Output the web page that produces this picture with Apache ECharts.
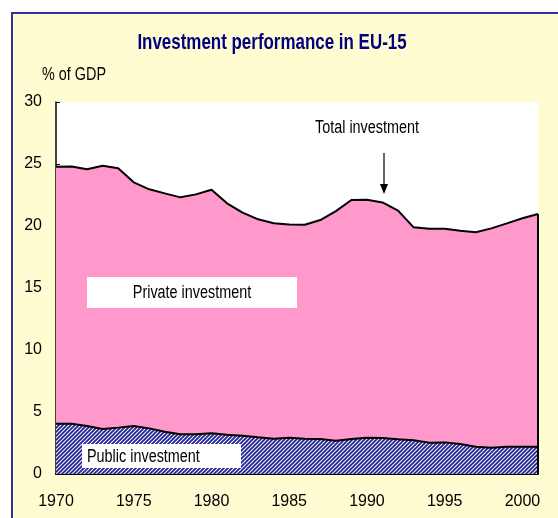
<!DOCTYPE html>
<html>
<head>
<meta charset="utf-8">
<script src="https://cdn.jsdelivr.net/npm/echarts@6/dist/echarts.min.js"></script>
<style>
html,body{margin:0;padding:0;background:#fff;}
#c{width:558px;height:518px;}
</style>
</head>
<body>
<div id="c"></div>
<script>
const years = ['1970','1971','1972','1973','1974','1975','1976','1977','1978','1979','1980','1981','1982','1983','1984','1985','1986','1987','1988','1989','1990','1991','1992','1993','1994','1995','1996','1997','1998','1999','2000','2001'];
const totalInvestment = [24.78,24.8,24.57,24.86,24.65,23.52,22.96,22.63,22.31,22.55,22.93,21.83,21.08,20.54,20.22,20.13,20.1,20.48,21.2,22.1,22.12,21.9,21.24,19.89,19.78,19.78,19.62,19.49,19.81,20.21,20.62,20.97];
const publicInvestment = [4.06,4.06,3.87,3.63,3.74,3.87,3.68,3.41,3.2,3.2,3.28,3.17,3.09,2.96,2.85,2.93,2.85,2.82,2.69,2.82,2.93,2.9,2.8,2.72,2.53,2.55,2.42,2.2,2.12,2.2,2.2,2.2];
const privateInvestment = totalInvestment.map((t,i)=>+(t-publicInvestment[i]).toFixed(2));

const FONT = "'Liberation Sans Narrow','Arial Narrow','Liberation Sans',sans-serif";

// hatch pattern
const pc = document.createElement('canvas');
pc.width = 4; pc.height = 4;
const g = pc.getContext('2d');
g.fillStyle = '#ffffff'; g.fillRect(0,0,4,4);
g.strokeStyle = '#262696'; g.lineWidth = 1.9;
g.beginPath();
g.moveTo(-1,5); g.lineTo(5,-1);
g.moveTo(-1,1); g.lineTo(1,-1);
g.moveTo(3,5); g.lineTo(5,3);
g.stroke();

function label(text, x, y, align, size, sx) {
  return {type:'text', x:x, y:y, z:11, scaleX:sx,
    style:{text:text, font:size+"px "+FONT, fill:'#000', align:align, verticalAlign:'middle'}};
}

const chart = echarts.init(document.getElementById('c'), null, {renderer:'canvas'});
const last = years.length-1;
const title = label('Investment performance in EU-15', 272, 43, 'center', 22, 0.77);
title.style.font = "bold 22px "+FONT; title.style.fill = '#000080';
chart.setOption({
  animation:false,
  backgroundColor:'#ffffff',
  graphic:[
    {type:'rect', z:-10, shape:{x:12,y:13,width:560,height:520}, style:{fill:'#FFFCD2', stroke:'#333399', lineWidth:2}},
    title,
    label('% of GDP', 42, 75, 'left', 18, 0.8),
    {type:'rect', x:87, y:277, z:10, shape:{width:210,height:31}, style:{fill:'#fff'}},
    label('Private investment', 192, 293, 'center', 18, 0.8),
    {type:'rect', x:82, y:444, z:10, shape:{width:159,height:24}, style:{fill:'#fff'}},
    label('Public investment', 87, 457, 'left', 18, 0.8),
    label('Total investment', 367, 128, 'center', 18, 0.8),
    {type:'line', z:11, shape:{x1:384,y1:153,x2:384,y2:190}, style:{stroke:'#000', lineWidth:1.2}},
    {type:'polygon', z:11, shape:{points:[[380,184],[388,184],[384,194]]}, style:{fill:'#000'}}
  ],
  grid:{left:56, right:20, top:102, bottom:44, show:true, backgroundColor:'#ffffff', borderWidth:0},
  xAxis:{
    type:'category', data:years, boundaryGap:false,
    axisLine:{lineStyle:{color:'#000', width:2}},
    axisTick:{inside:true, length:4, interval:0, lineStyle:{color:'#000'}},
    axisLabel:{interval:4, color:'#000', fontFamily:FONT, fontSize:16, margin:20},
    splitLine:{show:false}
  },
  yAxis:{
    type:'value', min:0, max:30, interval:5,
    axisLine:{show:true, lineStyle:{color:'#000', width:1.5}},
    axisTick:{show:true, inside:true, length:4, lineStyle:{color:'#000'}},
    axisLabel:{color:'#000', fontFamily:FONT, fontSize:16, margin:14},
    splitLine:{show:false}
  },
  series:[
    {type:'line', name:'Public investment', data:publicInvestment, stack:'inv', symbol:'none',
     lineStyle:{color:'#000', width:2}, areaStyle:{color:{image:pc, repeat:'repeat'}, opacity:1}, z:3},
    {type:'line', name:'Private investment', data:privateInvestment, stack:'inv', symbol:'none',
     lineStyle:{color:'#000', width:2}, areaStyle:{color:'#FF99CC', opacity:1}, z:2,
     markLine:{symbol:'none', silent:true, label:{show:false}, lineStyle:{color:'#000', width:2, type:'solid'},
       data:[[{coord:[years[last],0]},{coord:[years[last],totalInvestment[last]]}]]}}
  ]
});
</script>
</body>
</html>
